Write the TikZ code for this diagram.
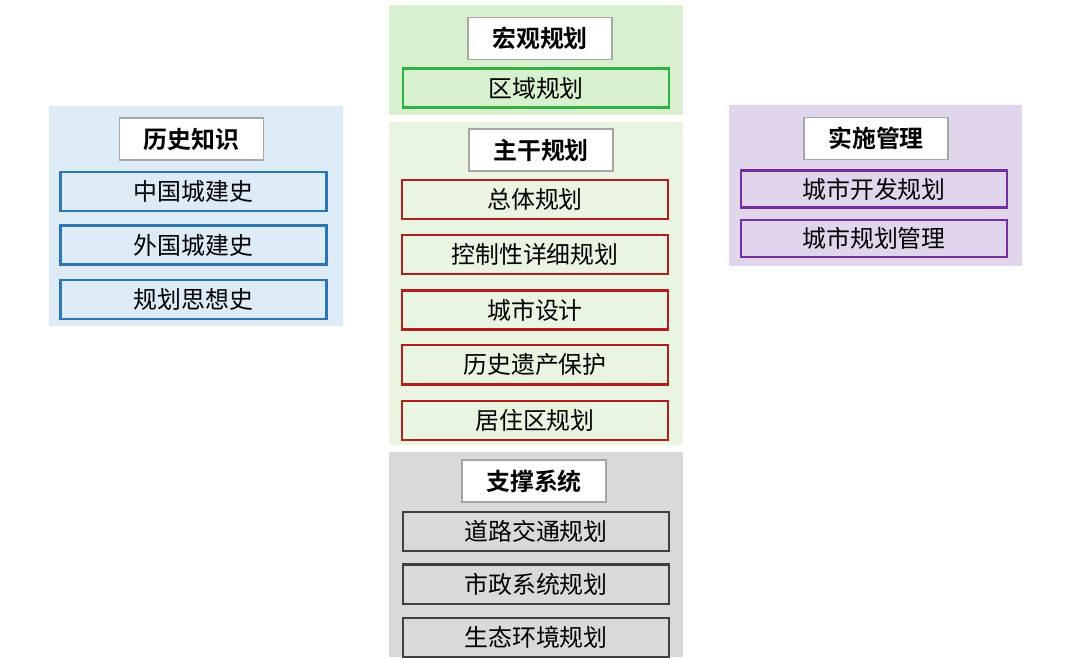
\documentclass[tikz,border=0pt]{standalone}
\usepackage{fontspec}
\setmainfont{Noto Sans CJK SC}[BoldFont={Noto Sans CJK SC Bold}]
\usetikzlibrary{positioning}
\definecolor{panelblue}{HTML}{DDEBF7}
\definecolor{panelgreen}{HTML}{D8F0CE}
\definecolor{panelpale}{HTML}{E9F4E1}
\definecolor{panelgrey}{HTML}{D9D9D9}
\definecolor{panelpurple}{HTML}{E1D5EC}
\definecolor{lineblue}{HTML}{2E75B6}
\definecolor{linegreen}{HTML}{2DB045}
\definecolor{linered}{HTML}{B01E1E}
\definecolor{linegrey}{HTML}{404040}
\definecolor{linepurple}{HTML}{7030A0}
\tikzset{
  panel/.style={inner sep=0pt, anchor=north west},
  title/.style={draw=gray!70, fill=white, line width=0.8pt, font=\bfseries\fontsize{17}{20}\selectfont,
    minimum width=3.6cm, minimum height=1.05cm, inner sep=0pt},
  item/.style={draw=#1, line width=1.7pt, font=\fontsize{17}{20}\selectfont,
    minimum width=6.65cm, minimum height=0.98cm, inner sep=0pt}
}
\begin{document}
\begin{tikzpicture}
  \useasboundingbox (0,0) rectangle (27,-16.425);

  % panels
  \node [panel, fill=panelblue, minimum width=7.35cm, minimum height=5.5cm] (pHist) at (1.225,-2.65) {};
  \node [panel, fill=panelgreen, minimum width=7.35cm, minimum height=2.75cm] (pMacro) at (9.725,-0.125) {};
  \node [panel, fill=panelpale, minimum width=7.35cm, minimum height=8.075cm] (pMain) at (9.725,-3.05) {};
  \node [panel, fill=panelgrey, minimum width=7.35cm, minimum height=5.125cm] (pSup) at (9.725,-11.3) {};
  \node [panel, fill=panelpurple, minimum width=7.325cm, minimum height=4.025cm] (pImpl) at (18.225,-2.625) {};

  % history
  \node [title] (tHist) at (4.79,-3.475) {历史知识};
  \node [item=lineblue, below = 0.25cm of tHist, xshift=0.05cm] (h1) {中国城建史};
  \node [item=lineblue, below = 0.3cm of h1] (h2) {外国城建史};
  \node [item=lineblue, below = 0.32cm of h2] (h3) {规划思想史};

  % macro
  \node [title] (tMacro) at (13.5,-0.96) {宏观规划};
  \node [item=linegreen, below = 0.18cm of tMacro, xshift=-0.1cm] (m1) {区域规划};

  % main
  \node [title] (tMain) at (13.525,-3.75) {主干规划};
  \node [item=linered, below = 0.18cm of tMain, xshift=-0.15cm] (r1) {总体规划};
  \node [item=linered, below = 0.33cm of r1] (r2) {控制性详细规划};
  \node [item=linered, below = 0.35cm of r2] (r3) {城市设计};
  \node [item=linered, below = 0.33cm of r3] (r4) {历史遗产保护};
  \node [item=linered, below = 0.35cm of r4] (r5) {居住区规划};

  % support
  \node [title] (tSup) at (13.35,-12.025) {支撑系统};
  \node [item=linegrey, below = 0.2cm of tSup, xshift=0.05cm] (s1) {道路交通规划};
  \node [item=linegrey, below = 0.28cm of s1] (s2) {市政系统规划};
  \node [item=linegrey, below = 0.3cm of s2] (s3) {生态环境规划};

  % implementation
  \node [title] (tImpl) at (21.9,-3.46) {实施管理};
  \node [item=linepurple, minimum height=0.93cm, below = 0.23cm of tImpl, xshift=-0.05cm] (i1) {城市开发规划};
  \node [item=linepurple, minimum height=0.93cm, below = 0.25cm of i1] (i2) {城市规划管理};
\end{tikzpicture}
\end{document}
